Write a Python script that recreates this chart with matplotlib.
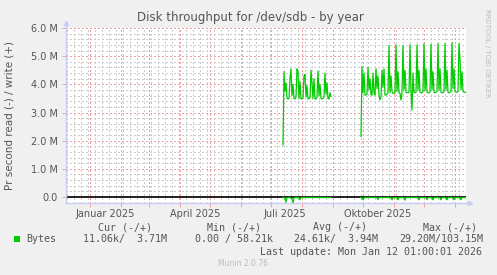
import matplotlib
matplotlib.use("Agg")
import matplotlib.pyplot as plt
import numpy as np
import pandas as pd
from matplotlib.patches import Rectangle

W, H = 497, 275

TITLE = "Disk throughput for /dev/sdb - by year"
YLABEL = "Pr second read (-) / write (+)"

# write (+), MB/s, one value per day, two stretches with data
WRITE_1_START = "2025-07-13"
WRITE_1 = [1.85, 4.45, 3.75, 4.05, 3.50, 3.48, 3.50, 4.20, 4.55, 3.60,
           4.00, 3.50, 3.48, 3.55, 4.55, 4.45, 3.50, 4.10, 3.48, 3.50,
           3.50, 4.30, 4.35, 3.55, 3.95, 3.48, 3.50, 3.52, 4.50, 4.05,
           3.50, 4.20, 3.48, 3.48, 3.55, 4.47, 3.60, 4.00, 3.50, 3.48,
           3.50, 3.55, 4.40, 3.65, 4.05, 3.50, 3.48, 3.70, 3.58]
WRITE_2_START = "2025-09-29"
WRITE_2 = [2.15, 4.63, 3.70, 4.40, 3.62, 3.62, 3.65, 4.60, 3.80, 4.20,
           3.62, 3.62, 4.40, 3.70, 3.62, 4.55, 3.85, 4.30, 3.60, 3.45,
           3.55, 4.50, 3.90, 4.55, 3.62, 3.62, 3.65, 3.70, 5.38, 3.70,
           4.30, 3.75, 3.68, 3.68, 3.70, 5.40, 3.75, 4.45, 3.70, 3.68,
           3.44, 3.70, 5.38, 3.80, 4.50, 3.72, 3.70, 3.70, 3.72, 5.40,
           3.75, 3.09, 4.40, 3.72, 3.70, 3.72, 5.40, 3.80, 4.50, 3.72,
           3.70, 3.70, 3.75, 5.45, 3.78, 4.55, 3.72, 3.70, 3.70, 3.72,
           5.42, 3.80, 4.45, 3.72, 3.70, 3.72, 3.75, 5.45, 3.80, 4.55,
           3.72, 3.70, 3.70, 3.75, 5.45, 3.80, 4.50, 3.72, 3.70, 3.72,
           3.75, 5.48, 3.85, 4.55, 3.75, 3.72, 3.72, 3.75, 5.45, 4.90,
           3.80, 4.45, 3.75, 3.72, 3.72, 3.71]
# read (-), MB/s, drawn below zero
READ_1 = [0.02, 0.02, 0.06, 0.18, 0.03, 0.02, 0.02, 0.02, 0.05, 0.06,
          0.20, 0.04, 0.02, 0.02, 0.02, 0.02, 0.03, 0.10, 0.02, 0.02,
          0.02, 0.02, 0.02, 0.02, 0.02, 0.02, 0.02, 0.02, 0.02, 0.02,
          0.02, 0.02, 0.02, 0.02, 0.02, 0.02, 0.02, 0.02, 0.02, 0.02,
          0.02, 0.02, 0.02, 0.02, 0.02, 0.02, 0.02, 0.02, 0.02]
READ_2 = [0.02, 0.03, 0.10, 0.03, 0.02, 0.02, 0.02, 0.02, 0.02, 0.02,
          0.02, 0.02, 0.02, 0.02, 0.02, 0.02, 0.03, 0.09, 0.02, 0.02,
          0.02, 0.02, 0.02, 0.02, 0.02, 0.02, 0.02, 0.02, 0.02, 0.02,
          0.03, 0.10, 0.02, 0.02, 0.02, 0.02, 0.03, 0.10, 0.02, 0.02,
          0.02, 0.02, 0.02, 0.03, 0.11, 0.02, 0.02, 0.02, 0.02, 0.02,
          0.02, 0.02, 0.02, 0.02, 0.02, 0.02, 0.02, 0.03, 0.10, 0.02,
          0.02, 0.02, 0.02, 0.02, 0.02, 0.03, 0.09, 0.02, 0.02, 0.02,
          0.02, 0.03, 0.10, 0.02, 0.02, 0.02, 0.02, 0.02, 0.02, 0.03,
          0.10, 0.02, 0.02, 0.02, 0.02, 0.03, 0.10, 0.02, 0.02, 0.02,
          0.02, 0.02, 0.03, 0.10, 0.02, 0.02, 0.02, 0.02, 0.02, 0.03,
          0.10, 0.02, 0.02, 0.02, 0.02, 0.02]

Y_TICKS = [0, 1, 2, 3, 4, 5, 6]
Y_TICKLABELS = ["0.0", "1.0 M", "2.0 M", "3.0 M", "4.0 M", "5.0 M", "6.0 M"]
X_LABEL_DATES = ["2025-01-16", "2025-04-16", "2025-07-15", "2025-10-16"]
X_LABELS = ["Januar 2025", "April 2025", "Juli 2025", "Oktober 2025"]

LEG_NAME = "Bytes"
LEG_HEADS = ["Cur (-/+)", "Min (-/+)", "Avg (-/+)", "Max (-/+)"]
LEG_VALUES = ["11.06k/  3.71M", "0.00 / 58.21k", "24.61k/  3.94M", "29.20M/103.15M"]
LAST_UPDATE = "Last update: Mon Jan 12 01:00:01 2026"

GREEN = "#00cc00"
FG = "#555555"
AXIS = "#c8ccf4"
MINOR = "#cccccc"
MAJOR = "#f0a0a0"
DOT = (0, (1, 2))


def px(x, y):
    return x / W, 1 - y / H


fig = plt.figure(figsize=(W / 100, H / 100), dpi=100)
fig.patch.set_facecolor("#f0f0f0")
ax = fig.add_axes([66 / W, (H - 203) / H, (466 - 66) / W, (203 - 28) / H])
ax.set_facecolor("white")

x0 = pd.Timestamp("2024-12-08")
x1 = pd.Timestamp("2026-01-12")
ax.set_xlim(x0, x1)
ax.set_ylim(-6 / 28.17, 6.0)

# grid: weekly minor, monthly major; 0.2M minor, 1M major
grid = dict(lw=0.75, ls=DOT, antialiased=False)
for d in pd.date_range(x0, x1, freq="W-MON"):
    ax.axvline(d, color=MINOR, zorder=0, **grid)
for v in np.arange(0.2, 6.0, 0.2):
    if abs(v - round(v)) > 1e-6:
        ax.axhline(v, color=MINOR, zorder=0, **grid)
months = pd.date_range(x0, x1, freq="MS")
for d in months:
    ax.axvline(d, color=MAJOR, zorder=1, **grid)
for v in Y_TICKS:
    ax.axhline(v, color=MAJOR, zorder=1, **grid)

ax.axhline(0, color="black", lw=1.2, zorder=2)

for start, w, r in [(WRITE_1_START, WRITE_1, READ_1), (WRITE_2_START, WRITE_2, READ_2)]:
    days = pd.date_range(start, periods=len(w), freq="D")
    ax.plot(days, w, color=GREEN, lw=0.9, zorder=3)
    ax.plot(days, -np.array(r), color=GREEN, lw=0.9, zorder=3)

for s in ["top", "right"]:
    ax.spines[s].set_visible(False)
for s in ["left", "bottom"]:
    ax.spines[s].set_color(AXIS)
    ax.spines[s].set_linewidth(1.0)
ax.plot([0, 0], [1, 1.025], color=AXIS, lw=1.0, transform=ax.transAxes, clip_on=False)
ax.plot([0], [1.03], marker="^", ms=3, color=AXIS, transform=ax.transAxes, clip_on=False)
ax.plot([1, 1.008], [0, 0], color=AXIS, lw=1.0, transform=ax.transAxes, clip_on=False)
ax.plot([1.01], [0], marker=">", ms=3, color=AXIS, transform=ax.transAxes, clip_on=False)

ax.set_yticks(Y_TICKS)
ax.set_yticklabels(Y_TICKLABELS)
ax.set_xticks(pd.to_datetime(X_LABEL_DATES))
ax.set_xticklabels(X_LABELS)
ax.set_xticks(months, minor=True)
ax.tick_params(axis="y", length=3, width=0.7, color=MAJOR, pad=3, labelsize=7, labelcolor=FG)
ax.tick_params(axis="x", which="major", length=0, pad=4, labelsize=7, labelcolor=FG)
ax.tick_params(axis="x", which="minor", length=3, width=0.7, color=MAJOR)

fig.text(*px(250, 17), TITLE, ha="center", va="center", fontsize=8.5, color=FG)
fig.text(*px(10, 115), YLABEL, ha="center", va="center", rotation=90, fontsize=7.5, color=FG)
fig.text(*px(487, 53), "RRDTOOL / TOBI OETIKER", ha="center", va="center", rotation=270,
         fontsize=5, color="#bbbbbb")

mono = dict(family="DejaVu Sans Mono", fontsize=7.2, color=FG, va="center")
fig.patches.append(Rectangle(px(14, 242), 6 / W, 6 / H, transform=fig.transFigure,
                             facecolor=GREEN, edgecolor="none"))
fig.text(*px(26.5, 239), LEG_NAME, ha="left", **mono)
for head, val, he, ve in zip(LEG_HEADS, LEG_VALUES, [152, 261, 367, 477], [167, 273, 378, 483]):
    fig.text(*px(he, 227), head, ha="right", **mono)
    fig.text(*px(ve, 239), val, ha="right", **mono)
fig.text(*px(482, 252), LAST_UPDATE, ha="right", **mono)
fig.text(*px(243, 264), "Munin 2.0.76", ha="center", va="center", fontsize=5.5, color="#bbbbbb")

fig.savefig("out.png", dpi=100, facecolor=fig.get_facecolor())
